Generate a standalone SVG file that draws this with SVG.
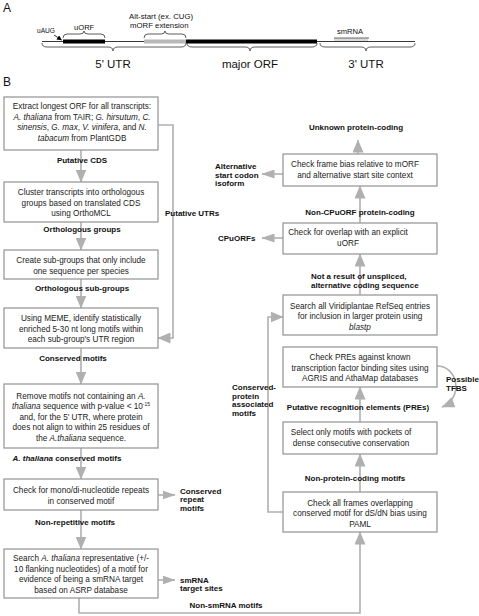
<svg xmlns="http://www.w3.org/2000/svg" width="479" height="616" viewBox="0 0 479 616">
<style>
text{font-family:"Liberation Sans",Arial,Helvetica,sans-serif;fill:#111}
.bt{font-size:8.2px;text-anchor:middle;fill:#222}
.lb{font-size:8px;font-weight:bold}
.lc{font-size:8px;font-weight:bold;text-anchor:middle}
.box{fill:#fff;stroke:#9a9a9a;stroke-width:1.3}
.con{fill:none;stroke:#b0b0b0;stroke-width:1.6}
.br{fill:none;stroke:#333;stroke-width:0.8}
.big{font-size:11.5px;text-anchor:middle}
.pl{font-size:12px}
</style>
<defs>
<marker id="ah" markerWidth="13" markerHeight="11" refX="12.5" refY="5.5" orient="auto" markerUnits="userSpaceOnUse"><path d="M0,0 L13,5.5 L0,11 z" fill="#b0b0b0"/></marker>
<marker id="ahs" markerWidth="13" markerHeight="9" refX="12.5" refY="4.5" orient="auto" markerUnits="userSpaceOnUse"><path d="M0,0 L13,4.5 L0,9 z" fill="#b0b0b0"/></marker>
<marker id="bk" markerWidth="5" markerHeight="5" refX="4.5" refY="2.5" orient="auto" markerUnits="userSpaceOnUse"><path d="M0,0 L5,2.5 L0,5 z" fill="#000"/></marker>
</defs>

<!-- Panel A -->
<g id="panelA">
<text x="3" y="12" class="pl">A</text>
<line x1="42" y1="41.5" x2="415" y2="41.5" stroke="#222" stroke-width="0.9"/>
<rect x="63" y="39.5" width="42" height="4" fill="#000"/>
<rect x="144" y="39.5" width="42" height="4" fill="#b8b8b8"/>
<rect x="186" y="39.5" width="131" height="4" fill="#000"/>
<line x1="334" y1="38" x2="369" y2="38" stroke="#444" stroke-width="0.8"/>
<path d="M335,38V41M337,38V41M339,38V41M341,38V41M343,38V41M345,38V41M347,38V41M349,38V41M351,38V41M353,38V41M355,38V41M357,38V41M359,38V41M361,38V41M363,38V41M365,38V41M367,38V41" stroke="#666" stroke-width="0.5"/>
<path class="br" d="M63,38 Q63,34 67,34 L80,34 Q84,34 84,31 Q84,34 88,34 L101,34 Q105,34 105,38"/>
<path class="br" d="M144,38 Q144,34 148,34 L161,34 Q165,34 165,31 Q165,34 169,34 L182,34 Q186,34 186,38"/>
<path class="br" d="M42,43 Q42,47 47,47 L108,47 Q113,47 113,51 Q113,47 118,47 L181,47 Q186,47 186,43"/>
<path class="br" d="M187,43 Q187,47 192,47 L245,47 Q250,47 250,51 Q250,47 255,47 L312,47 Q317,47 317,43"/>
<path class="br" d="M320,43 Q320,47 325,47 L361,47 Q366,47 366,51 Q366,47 371,47 L410,47 Q415,47 415,43"/>
<line x1="54" y1="35" x2="61.5" y2="40" stroke="#000" stroke-width="0.8" marker-end="url(#bk)"/>
<text x="37" y="33" font-size="6.6px">uAUG</text>
<text x="74" y="30" font-size="7.6px">uORF</text>
<text x="129" y="19" font-size="7.8px">Alt-start (ex. CUG)</text>
<text x="130" y="27.5" font-size="7.8px">mORF extension</text>
<text x="337" y="34" font-size="7.6px">smRNA</text>
<text x="113" y="68" class="big">5' UTR</text>
<text x="250" y="68" class="big">major ORF</text>
<text x="366" y="68" class="big">3' UTR</text>
</g>

<text x="3" y="86" class="pl">B</text>

<!-- Connectors -->
<g id="connectors">
<path class="con" d="M81,150V182" marker-end="url(#ah)"/>
<path class="con" d="M81,222V250" marker-end="url(#ah)"/>
<path class="con" d="M81,279V308" marker-end="url(#ah)"/>
<path class="con" d="M81,348V384" marker-end="url(#ah)"/>
<path class="con" d="M81,448V479" marker-end="url(#ah)"/>
<path class="con" d="M81,510V549" marker-end="url(#ah)"/>
<path class="con" d="M158,495H175" marker-end="url(#ahs)"/>
<path class="con" d="M158,580H175" marker-end="url(#ahs)"/>
<path class="con" d="M158,125H173V338H158" marker-end="url(#ah)"/>
<path class="con" d="M79,598V613H360V532" marker-end="url(#ah)"/>
<path class="con" d="M360,492V454" marker-end="url(#ah)"/>
<path class="con" d="M360,422V387" marker-end="url(#ah)"/>
<path class="con" d="M360,295V254" marker-end="url(#ah)"/>
<path class="con" d="M360,223V186" marker-end="url(#ah)"/>
<path class="con" d="M358,154V140" marker-end="url(#ah)"/>
<path class="con" d="M283,512H268V317H283" marker-end="url(#ah)"/>
<path class="con" d="M283,238H262" marker-end="url(#ahs)"/>
<path class="con" d="M283,174H262" marker-end="url(#ahs)"/>
<path class="con" d="M437,366C458,366 464,398 442,407" marker-end="url(#ah)"/>
</g>

<!-- Connector labels -->
<g id="labels">
<text x="82" y="163" class="lc">Putative CDS</text>
<text x="82" y="232" class="lc">Orthologous groups</text>
<text x="82" y="291" class="lc">Orthologous sub-groups</text>
<text x="73" y="361" class="lc">Conserved motifs</text>
<text x="67" y="461" class="lc"><tspan font-style="italic">A. thaliana</tspan> conserved motifs</text>
<text x="75" y="525" class="lc">Non-repetitive motifs</text>
<text x="165" y="216" class="lb">Putative UTRs</text>
<text x="180" y="494" class="lb">Conserved</text>
<text x="180" y="502.3" class="lb">repeat</text>
<text x="180" y="510.6" class="lb">motifs</text>
<text x="180" y="583" class="lb">smRNA</text>
<text x="180" y="591.3" class="lb">target sites</text>
<text x="226" y="608" class="lc">Non-smRNA motifs</text>
<text x="356" y="130" class="lc">Unknown protein-coding</text>
<text x="215" y="169" class="lb">Alternative</text>
<text x="215" y="177.5" class="lb">start codon</text>
<text x="215" y="186" class="lb">isoform</text>
<text x="360" y="215" class="lc">Non-CPuORF protein-coding</text>
<text x="218" y="241" class="lb">CPuORFs</text>
<text x="311" y="279" class="lb">Not a result of unspliced,</text>
<text x="311" y="288" class="lb">alternative coding sequence</text>
<text x="232" y="390" class="lb">Conserved-</text>
<text x="232" y="398.5" class="lb">protein</text>
<text x="232" y="407" class="lb">associated</text>
<text x="232" y="415.5" class="lb">motifs</text>
<text x="446" y="382" class="lb">Possible</text>
<text x="446" y="391" class="lb">TFBS</text>
<text x="358" y="410" class="lc">Putative recognition elements (PREs)</text>
<text x="355" y="481" class="lc">Non-protein-coding motifs</text>
</g>

<!-- Left column nodes -->
<g id="extract">
<rect class="box" x="4" y="97" width="154" height="53"/>
<text class="bt" x="82" y="109">Extract longest ORF for all transcripts:</text>
<text class="bt" x="82" y="119.5"><tspan font-style="italic">A. thaliana</tspan> from TAIR; <tspan font-style="italic">G. hirsutum</tspan>, <tspan font-style="italic">C.</tspan></text>
<text class="bt" x="82" y="130"><tspan font-style="italic">sinensis</tspan>, <tspan font-style="italic">G. max</tspan>, <tspan font-style="italic">V. vinifera</tspan>, and <tspan font-style="italic">N.</tspan></text>
<text class="bt" x="82" y="140.5"><tspan font-style="italic">tabacum</tspan>  from PlantGDB</text>
</g>
<g id="cluster">
<rect class="box" x="4" y="182" width="154" height="40"/>
<text class="bt" x="81" y="195">Cluster transcripts into orthologous</text>
<text class="bt" x="81" y="205.5">groups based on translated CDS</text>
<text class="bt" x="81" y="216">using OrthoMCL</text>
</g>
<g id="subgroups">
<rect class="box" x="4" y="250" width="154" height="29"/>
<text class="bt" x="81" y="263">Create sub-groups that only include</text>
<text class="bt" x="81" y="273.5">one sequence per species</text>
</g>
<g id="meme">
<rect class="box" x="4" y="308" width="154" height="40"/>
<text class="bt" x="81" y="321">Using MEME, identify statistically</text>
<text class="bt" x="81" y="331.5">enriched 5-30 nt long motifs within</text>
<text class="bt" x="81" y="342">each sub-group's UTR region</text>
</g>
<g id="remove">
<rect class="box" x="4" y="384" width="154" height="64"/>
<text class="bt" x="81" y="398.5">Remove motifs not containing an <tspan font-style="italic">A.</tspan></text>
<text class="bt" x="81" y="409"><tspan font-style="italic">thaliana</tspan> sequence with p-value &lt; 10<tspan dy="-3" font-size="5px">-15</tspan></text>
<text class="bt" x="81" y="419.7">and, for the 5' UTR, where protein</text>
<text class="bt" x="81" y="430.3">does not align to within 25 residues of</text>
<text class="bt" x="81" y="441">the <tspan font-style="italic">A.thaliana</tspan> sequence.</text>
</g>
<g id="repeats">
<rect class="box" x="4" y="479" width="154" height="31"/>
<text class="bt" x="81" y="493">Check for mono/di-nucleotide repeats</text>
<text class="bt" x="81" y="503.5">in conserved motif</text>
</g>
<g id="smrna">
<rect class="box" x="4" y="549" width="154" height="49"/>
<text class="bt" x="81" y="561">Search <tspan font-style="italic">A. thaliana</tspan> representative (+/-</text>
<text class="bt" x="81" y="571.7">10 flanking nucleotides) of a motif for</text>
<text class="bt" x="81" y="582.4">evidence of being a smRNA target</text>
<text class="bt" x="81" y="593">based on ASRP database</text>
</g>

<!-- Right column nodes -->
<g id="framebias">
<rect class="box" x="283" y="154" width="154" height="32"/>
<text class="bt" x="355" y="167">Check frame bias relative to mORF</text>
<text class="bt" x="355" y="177.5">and alternative start site context</text>
</g>
<g id="overlap">
<rect class="box" x="283" y="223" width="154" height="31"/>
<text class="bt" x="348" y="235">Check for overlap with an explicit</text>
<text class="bt" x="348" y="246">uORF</text>
</g>
<g id="refseq">
<rect class="box" x="283" y="295" width="154" height="40"/>
<text class="bt" x="360" y="309">Search all Viridiplantae RefSeq entries</text>
<text class="bt" x="360" y="319">for inclusion in larger protein using</text>
<text class="bt" x="360" y="329.5" font-style="italic">blastp</text>
</g>
<g id="pres">
<rect class="box" x="283" y="347" width="154" height="40"/>
<text class="bt" x="360" y="360">Check PREs against known</text>
<text class="bt" x="360" y="370.5">transcription factor binding sites using</text>
<text class="bt" x="360" y="381">AGRIS and AthaMap databases</text>
</g>
<g id="select">
<rect class="box" x="283" y="422" width="154" height="32"/>
<text class="bt" x="351" y="435">Select only motifs with pockets of</text>
<text class="bt" x="351" y="445.5">dense consecutive conservation</text>
</g>
<g id="paml">
<rect class="box" x="283" y="492" width="154" height="40"/>
<text class="bt" x="360" y="506">Check all frames overlapping</text>
<text class="bt" x="360" y="516">conserved motif for dS/dN bias using</text>
<text class="bt" x="360" y="526.5">PAML</text>
</g>
</svg>
